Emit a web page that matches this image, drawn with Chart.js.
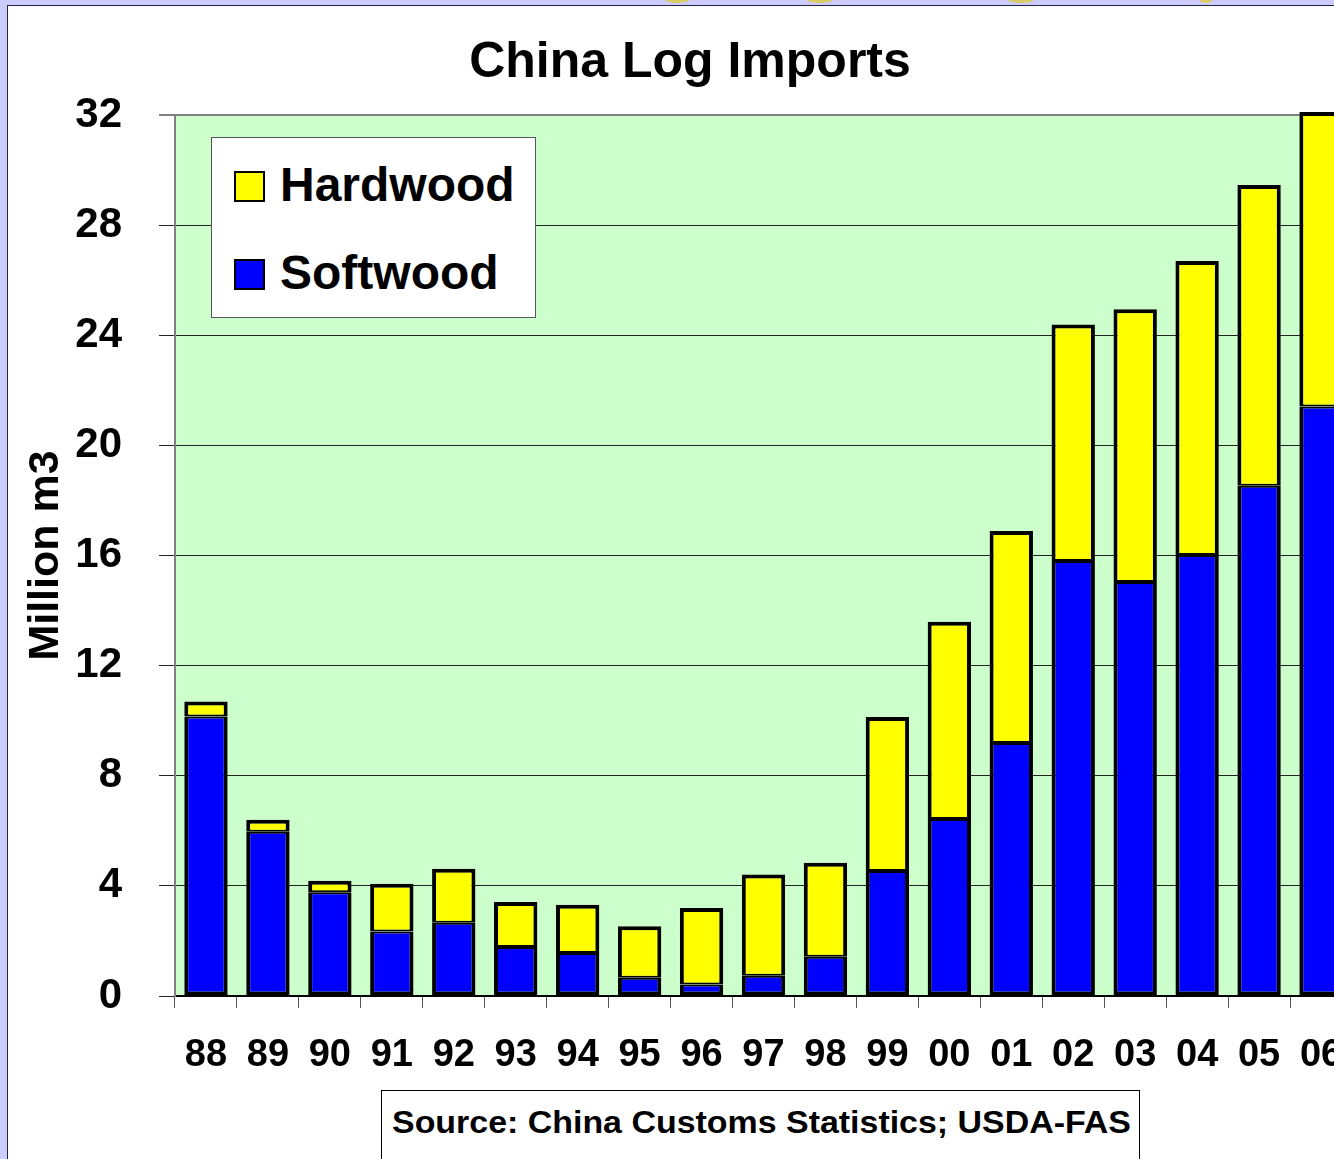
<!DOCTYPE html>
<html lang="en">
<head>
    <meta charset="UTF-8">
    <title>China Log Imports</title>
    <style>
        body {
            margin: 0;
            width: 1334px;
            height: 1159px;
            overflow: hidden;
            background: #ccccff;
            font-family: "Liberation Sans", Arial, sans-serif;
            position: relative;
        }
        .panel {
            position: absolute;
            left: 7px;
            top: 5px;
            width: 1400px;
            height: 1200px;
            background: #fff;
            border-left: 1px solid #222244;
            border-top: 1px solid #222244;
        }
        .deco {
            position: absolute;
            top: -6px;
            height: 9px;
            border-radius: 50%;
            background: #d9cc66;
        }
        #chart {
            position: absolute;
            left: 0;
            top: 0;
        }
        .title {
            position: absolute;
            left: 390px;
            width: 600px;
            top: 35px;
            text-align: center;
            font-size: 50px;
            line-height: 50px;
            font-weight: bold;
            white-space: nowrap;
        }
        .legend {
            position: absolute;
            left: 211px;
            top: 137px;
            width: 323px;
            height: 179px;
            background: #fff;
            border: 1px solid #555;
        }
        .legend-item {
            position: absolute;
            left: 22px;
            font-size: 48px;
            line-height: 48px;
            font-weight: bold;
            white-space: nowrap;
        }
        .legend-item span.sw {
            position: absolute;
            left: 0;
            top: 10px;
            width: 27px;
            height: 27px;
            border: 2.5px solid #000;
        }
        .legend-item span.lb {
            position: absolute;
            left: 46px;
            top: 0;
        }
        .source {
            position: absolute;
            left: 381px;
            top: 1090px;
            width: 757px;
            height: 120px;
            background: #fff;
            border: 1px solid #000;
        }
        .source span {
            position: absolute;
            left: 10px;
            top: 15px;
            font-size: 32px;
            line-height: 32px;
            font-weight: bold;
            white-space: nowrap;
            transform-origin: 0 0;
        }
    </style>
</head>
<body>
    <div class="panel"></div>
    <div class="deco" style="left:664px;width:26px"></div>
    <div class="deco" style="left:806px;width:28px"></div>
    <div class="deco" style="left:1007px;width:28px"></div>
    <div class="deco" style="left:1199px;width:14px"></div>

    <canvas id="chart" width="1400" height="1159"></canvas>

    <div class="title">China Log Imports</div>
    <div class="legend" id="legend"></div>
    <div class="source"><span id="sourceText">Source: China Customs Statistics; USDA-FAS</span></div>

    <script src="https://cdn.jsdelivr.net/npm/chart.js"></script>
    <script>
        // Data (million m3)
        const years = ['88', '89', '90', '91', '92', '93', '94', '95', '96', '97', '98', '99', '00', '01', '02', '03', '04', '05', '06'];
        const softwood = [10.15, 5.97, 3.77, 2.34, 2.66, 1.78, 1.56, 0.66, 0.42, 0.74, 1.43, 4.54, 6.43, 9.19, 15.80, 15.04, 16.02, 18.53, 21.41];
        const hardwood = [0.55, 0.43, 0.42, 1.74, 1.96, 1.63, 1.75, 1.87, 2.78, 3.67, 3.41, 5.59, 7.16, 7.70, 8.59, 9.90, 10.68, 10.93, 10.70];
        const yTicks = [0, 4, 8, 12, 16, 20, 24, 28, 32];

        const FONT = '"Liberation Sans", Arial, sans-serif';

        // green plot background
        const plotBg = {
            id: 'plotBg',
            beforeDraw(chart) {
                const a = chart.chartArea;
                const ctx = chart.ctx;
                ctx.save();
                ctx.fillStyle = '#ccffcc';
                ctx.fillRect(a.left, a.top, a.right - a.left, a.bottom - a.top);
                ctx.restore();
            }
        };

        const datasets = [
            {
                label: 'Softwood',
                data: softwood,
                backgroundColor: '#0000ff',
                borderColor: '#000',
                borderWidth: { left: 4, right: 4, top: 2, bottom: 4 },
                borderSkipped: false
            },
            {
                label: 'Hardwood',
                data: hardwood,
                backgroundColor: '#ffff00',
                borderColor: '#000',
                borderWidth: { left: 4, right: 4, top: 4, bottom: 2 },
                borderSkipped: false,
                clip: false
            }
        ];

        const chart = new Chart(document.getElementById('chart'), {
            type: 'bar',
            data: { labels: years, datasets: datasets },
            options: {
                responsive: false,
                animation: false,
                layout: { padding: { left: 0, top: 115, right: 48, bottom: 0 } },
                datasets: { bar: { barPercentage: 0.7, categoryPercentage: 1.0 } },
                plugins: {
                    legend: { display: false },
                    title: { display: false },
                    tooltip: { enabled: false }
                },
                scales: {
                    x: {
                        stacked: true,
                        afterFit: s => { s.height = 1159 - 996; },
                        grid: {
                            drawOnChartArea: false,
                            drawTicks: true,
                            tickLength: 12,
                            color: '#555',
                            lineWidth: 1
                        },
                        border: { color: '#000', width: 2 },
                        ticks: {
                            color: '#000',
                            font: { family: FONT, size: 38, weight: 'bold' },
                            padding: 25,
                            autoSkip: false,
                            maxRotation: 0
                        }
                    },
                    y: {
                        stacked: true,
                        min: 0,
                        max: 32,
                        afterFit: s => { s.width = 175; },
                        afterBuildTicks: s => { s.ticks = yTicks.map(v => ({ value: v })); },
                        grid: {
                            color: c => (c.tick && c.tick.value === 32) ? '#808080' : '#222',
                            lineWidth: c => (c.tick && c.tick.value === 32) ? 2 : 1,
                            tickLength: 16
                        },
                        border: { color: '#808080', width: 2 },
                        ticks: {
                            color: '#000',
                            font: { family: FONT, size: 42, weight: 'bold' },
                            padding: 37
                        },
                        title: {
                            display: true,
                            text: 'Million m3',
                            color: '#000',
                            font: { family: FONT, size: 43, weight: 'bold' },
                            padding: { top: 20, bottom: 0 }
                        }
                    }
                }
            },
            plugins: [plotBg]
        });

        // legend box, hardwood listed first like the original
        const legend = document.getElementById('legend');
        const tops = [23, 111];
        datasets.slice().reverse().forEach((ds, i) => {
            const item = document.createElement('div');
            item.className = 'legend-item';
            item.style.top = tops[i] + 'px';
            item.innerHTML = '<span class="sw" style="background:' + ds.backgroundColor + '"></span><span class="lb">' + ds.label + '</span>';
            legend.appendChild(item);
        });

        // squeeze the source line to the width of the original
        const src = document.getElementById('sourceText');
        const w = src.getBoundingClientRect().width;
        src.style.transform = 'scaleX(' + (739 / w) + ')';
    </script>
</body>
</html>
